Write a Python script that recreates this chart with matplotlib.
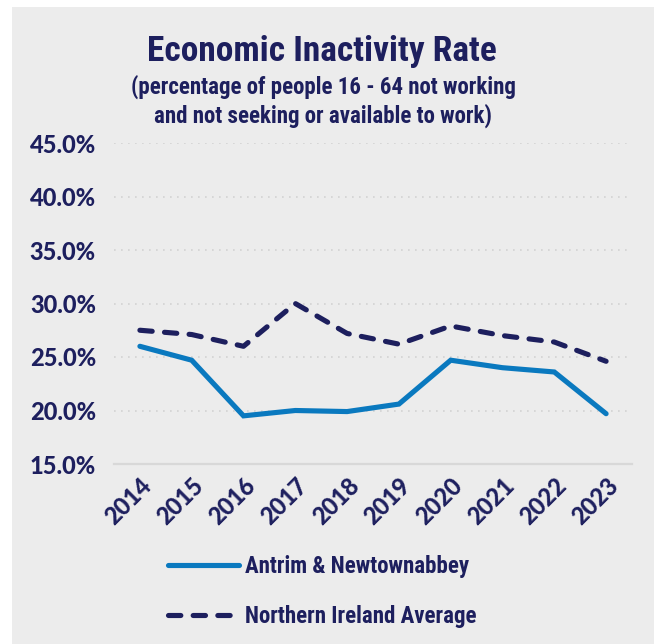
import matplotlib
matplotlib.use("Agg")
import matplotlib.pyplot as plt
from matplotlib.patches import Rectangle
from matplotlib.ticker import FuncFormatter

# Data
years = ["2014", "2015", "2016", "2017", "2018", "2019", "2020", "2021", "2022", "2023"]
antrim = [26.0, 24.7, 19.5, 20.0, 19.9, 20.6, 24.7, 24.0, 23.6, 19.7]
ni_avg = [27.5, 27.1, 26.0, 30.0, 27.2, 26.2, 27.9, 27.0, 26.4, 24.6]
yticks = [15, 20, 25, 30, 35, 40, 45]

NAVY = "#1d1f5e"
BLUE = "#0a79bf"
PANEL = "#ececec"
COND = ["Roboto Condensed", "Lato", "DejaVu Sans"]
HEAVY = ["Lato", "Liberation Sans", "DejaVu Sans"]

W, H = 660, 644
fig = plt.figure(figsize=(W / 100, H / 100), dpi=100)
fig.patch.set_facecolor("white")

# grey card behind the chart
fig.patches.append(Rectangle((12 / W, 0), (654 - 12) / W, 1 - 7 / H,
                             transform=fig.transFigure, facecolor=PANEL,
                             edgecolor="none", zorder=-10))

ax = fig.add_axes([114 / W, 1 - 464 / H, (632 - 114) / W, (464 - 143) / H])
ax.set_facecolor(PANEL)

x = list(range(len(years)))
ax.plot(x, antrim, color=BLUE, lw=3.7, solid_capstyle="round",
        solid_joinstyle="miter", label="Antrim & Newtownabbey", zorder=3)
ax.plot(x, ni_avg, color=NAVY, lw=3.7, dashes=(2.4, 2.4),
        dash_capstyle="round", label="Northern Ireland Average", zorder=3)

ax.set_xlim(-0.5, len(years) - 0.5)
ax.set_ylim(15, 45)
ax.set_yticks(yticks)
ax.yaxis.set_major_formatter(FuncFormatter(lambda v, p: f"{v:.1f}%"))
ax.set_xticks(x)
ax.set_xticklabels(years)

for lab in ax.get_yticklabels():
    lab.set_fontfamily(HEAVY)
    lab.set_fontweight("black")
    lab.set_fontsize(17)
    lab.set_color(NAVY)
for lab in ax.get_xticklabels():
    lab.set_fontfamily(HEAVY)
    lab.set_fontweight("black")
    lab.set_fontsize(17)
    lab.set_color(NAVY)
    lab.set_rotation(45)
    lab.set_ha("right")
    lab.set_va("top")
    lab.set_rotation_mode("anchor")

ax.tick_params(axis="y", length=0, pad=13)
ax.tick_params(axis="x", length=0, pad=7)

for y in yticks[1:]:
    ax.axhline(y, color="#d2d2d2", lw=1.2, ls=(0, (1, 3.2)), zorder=1)

for s in ("top", "right", "left"):
    ax.spines[s].set_visible(False)
ax.spines["bottom"].set_color("#d8d8d8")
ax.spines["bottom"].set_linewidth(1.6)

# titles
fig.text(322 / W, 1 - 52 / H, "Economic Inactivity Rate", family=COND,
         weight="bold", fontsize=25.5, color=NAVY, ha="center", va="center")
fig.text(323 / W, 1 - 87 / H, "(percentage of people 16 - 64 not working",
         family=COND, weight="bold", fontsize=16.5, color=NAVY,
         ha="center", va="center")
fig.text(323 / W, 1 - 116 / H, "and not seeking or available to work)",
         family=COND, weight="bold", fontsize=16.5, color=NAVY,
         ha="center", va="center")

leg = fig.legend(loc="center left", bbox_to_anchor=(168 / W, 1 - 591.5 / H),
                 frameon=False, borderpad=0, borderaxespad=0,
                 handlelength=3.1, handletextpad=0.25, labelspacing=1.15,
                 prop={"family": COND, "weight": "bold", "size": 16.5})
for t in leg.get_texts():
    t.set_color(NAVY)

fig.savefig("out.png", dpi=100, facecolor=fig.get_facecolor())
